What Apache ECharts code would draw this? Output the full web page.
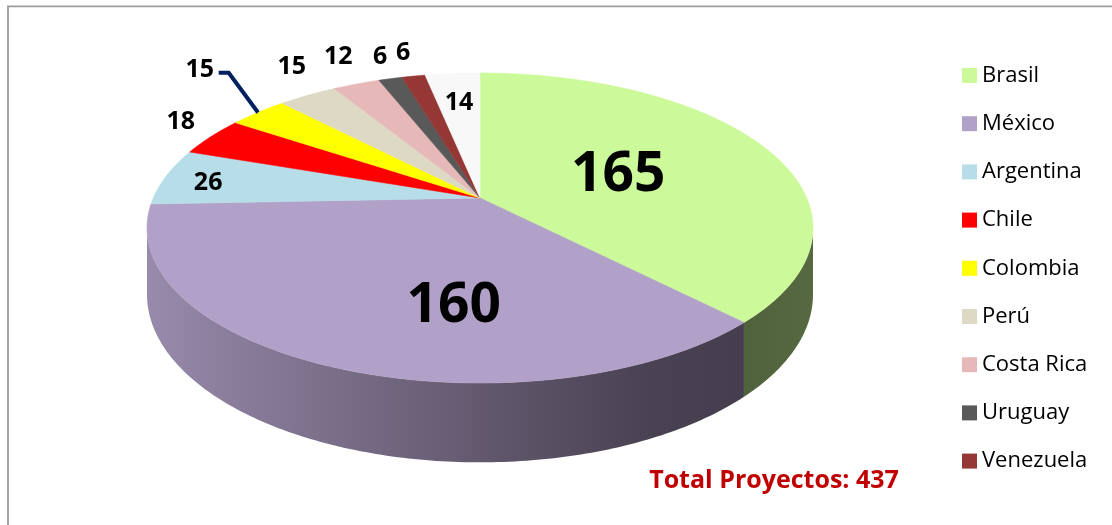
<!DOCTYPE html>
<html><head><meta charset="utf-8">
<script src="https://cdn.jsdelivr.net/npm/echarts@6/dist/echarts.min.js"></script>
<style>html,body{margin:0;padding:0;background:#fff;}#c{width:1112px;height:525px;}</style>
</head><body><div id="c"></div>
<script>
// ---- data ----
const categories = ['Brasil','México','Argentina','Chile','Colombia','Perú','Costa Rica','Uruguay','Venezuela','Otros'];
const values = [165,160,26,18,15,15,12,6,6,14];
const legendNames = ['Brasil','México','Argentina','Chile','Colombia','Perú','Costa Rica','Uruguay','Venezuela'];
const totalText = 'Total Proyectos: ';

// ---- style / layout ----
const colors = ['#CCFA9A','#B1A0C7','#B7DDE8','#FF0000','#FFFF00','#DDD9C4','#E6B9B8','#595959','#953735','#F8F8F8'];
const labelRadius = [0.462,0.639,0.855,1.162,1.457,1.264,1.273,1.216,1.232,0.73];
const labelTurn = [2.6,-15.5,-1.5,2.5,4.9,4.2,1.7,1.05,0.4,0];
const labelFont = [55,55,25,25,25,25,25,25,25,25];
const FONT = '"Open Sans", "Noto Sans", sans-serif';

const CX = 480, CY = 198, A = 326.7, B = 149.2, C = -0.1935, DEPTH = 64;
const total = values.reduce((s, v) => s + v, 0);
const cum = [0];
values.forEach(v => cum.push(cum[cum.length - 1] + v));

function proj(k, deg, drop) {
  const t = deg * Math.PI / 180;
  const x = k * Math.sin(t), y = -k * Math.cos(t);
  const den = 1 + C * y;
  return [CX + A * x / den, CY + (B * y + (drop || 0)) / den];
}
function arc(s, e, drop) {
  const n = Math.max(2, Math.ceil((e - s) / 0.8));
  const pts = [];
  for (let i = 0; i <= n; i++) pts.push(proj(1, s + (e - s) * i / n, drop));
  return pts;
}
const VIS_L = Math.acos(C) * 180 / Math.PI, VIS_R = 360 - VIS_L;
const shadeStops = [[147,0.86],[300,0.72],[500,0.54],[650,0.41],[743,0.39],[813,0.42]];
function shade(hex, f) {
  const n = parseInt(hex.slice(1), 16);
  const r = Math.round(((n >> 16) & 255) * f), g = Math.round(((n >> 8) & 255) * f), b = Math.round((n & 255) * f);
  return 'rgb(' + r + ',' + g + ',' + b + ')';
}

function makeRender(idx) {
  return function (params, api) {
    const val = api.value(0);
    const s = cum[idx] / total * 360, e = (cum[idx] + val) / total * 360;
    const color = colors[idx];
    const children = [];
    const vs = Math.max(s, VIS_L), ve = Math.min(e, VIS_R);
    if (ve > vs) {
      const top = arc(vs, ve, 0), bot = arc(vs, ve, DEPTH).reverse();
      const x0 = shadeStops[0][0], x1 = shadeStops[shadeStops.length - 1][0];
      children.push({
        type: 'polygon', shape: { points: top.concat(bot) },
        style: {
          fill: { type: 'linear', x: x0, y: 0, x2: x1, y2: 0, global: true,
            colorStops: shadeStops.map(p => ({ offset: (p[0] - x0) / (x1 - x0), color: shade(color, p[1]) })) },
          stroke: null
        }
      });
    }
    children.push({
      type: 'polygon', shape: { points: [[CX, CY]].concat(arc(s, e, 0)) },
      style: { fill: color, stroke: color, lineWidth: 0.6 }
    });
    const mid = (s + e) / 2 + labelTurn[idx];
    const lp = proj(labelRadius[idx], mid, 0);
    if (labelRadius[idx] > 1.4) {
      const edge = proj(1.0, (s + e) / 2, 0);
      children.push({
        type: 'polyline', z2: 90,
        shape: { points: [[lp[0] + 19, lp[1] + 3], [lp[0] + 29, lp[1] + 3], edge] },
        style: { stroke: '#002060', lineWidth: 4, fill: null, lineJoin: 'miter' }
      });
    }
    children.push({
      type: 'text', z2: 100, x: lp[0], y: lp[1],
      style: { text: String(val), fill: '#000', fontSize: labelFont[idx], fontWeight: 'bold',
        fontFamily: FONT, align: 'center', verticalAlign: 'middle' }
    });
    return { type: 'group', children: children };
  };
}

const series = categories.map((name, i) => ({
  type: 'custom', name: name, coordinateSystem: 'none', silent: true,
  itemStyle: { color: colors[i] },
  data: [{ name: name, value: [values[i]] }],
  renderItem: makeRender(i)
}));

const chart = echarts.init(document.getElementById('c'), null, { renderer: 'canvas' });
chart.setOption({
  backgroundColor: '#fff',
  animation: false,
  legend: {
    data: legendNames.map(n => ({ name: n, icon: 'rect' })),
    orient: 'vertical', left: 957, top: 59.5,
    itemWidth: 15, itemHeight: 15, itemGap: 26.2,
    selectedMode: false,
    textStyle: { fontSize: 22, fontFamily: FONT, color: '#000' }
  },
  graphic: [
    { type: 'rect', shape: { x: 8, y: 6.3, width: 1200, height: 600 },
      style: { fill: null, stroke: '#9C9C9C', lineWidth: 1.8 }, z: -10 },
    { type: 'text', x: 774, y: 481,
      style: { text: totalText + total, fill: '#C00000', fontSize: 25, fontWeight: 'bold',
        fontFamily: FONT, align: 'center', verticalAlign: 'middle' } }
  ],
  series: series
});
</script></body></html>
